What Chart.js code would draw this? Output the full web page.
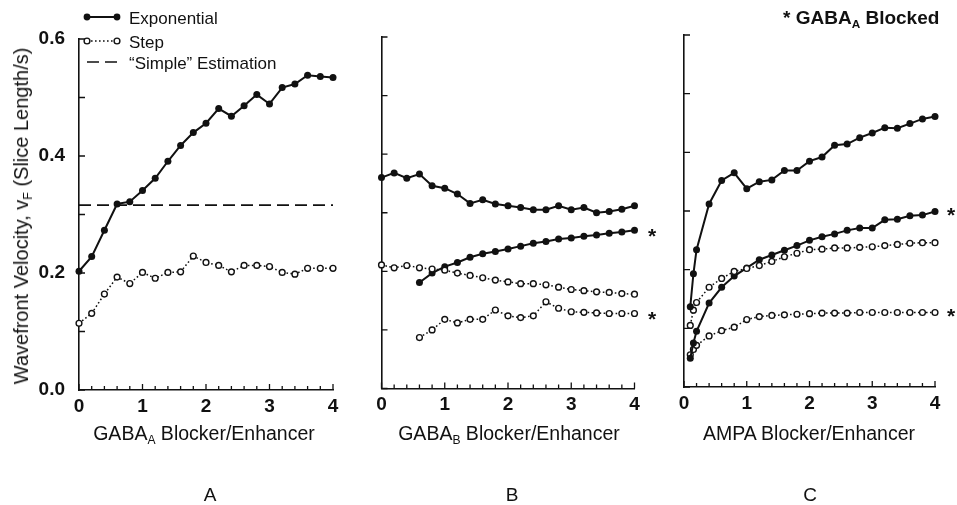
<!DOCTYPE html>
<html>
<head>
<meta charset="utf-8">
<script src="https://cdn.jsdelivr.net/npm/chart.js@4.4.1/dist/chart.umd.min.js"></script>
<style>
  body { margin: 0; background: #fff; }
  #page { position: relative; width: 957px; height: 505px; overflow: hidden;
          font-family: "Liberation Sans", Arial, sans-serif; color: #111; }
  canvas { position: absolute; top: 0; }
  .txt { position: absolute; white-space: nowrap; line-height: 1; transform: translate(-50%, -50%); }
  .left { transform: translate(0, -50%); }
  sub { font-size: 62%; vertical-align: -0.35em; line-height: 0; }
</style>
</head>
<body>
<div id="page">
  <canvas id="chartA" width="345" height="505" style="left:0px"></canvas>
  <canvas id="chartB" width="310" height="505" style="left:345px"></canvas>
  <canvas id="chartC" width="302" height="505" style="left:655px"></canvas>

  <!-- legend samples -->
  <svg style="position:absolute;left:0;top:0" width="140" height="80">
    <line x1="87" y1="17" x2="117" y2="17" stroke="#111" stroke-width="2"/>
    <circle cx="87" cy="17" r="3.4" fill="#111"/>
    <circle cx="117" cy="17" r="3.4" fill="#111"/>
    <line x1="87" y1="41" x2="117" y2="41" stroke="#111" stroke-width="1.5" stroke-dasharray="1.6 2.4"/>
    <circle cx="87" cy="41" r="2.9" fill="#fff" stroke="#111" stroke-width="1.4"/>
    <circle cx="117" cy="41" r="2.9" fill="#fff" stroke="#111" stroke-width="1.4"/>
    <line x1="87" y1="62" x2="118" y2="62" stroke="#111" stroke-width="1.6" stroke-dasharray="12 6"/>
  </svg>
  <div class="txt left" style="left:129px;top:18px;font-size:17px">Exponential</div>
  <div class="txt left" style="left:129px;top:42px;font-size:17px">Step</div>
  <div class="txt left" style="left:129px;top:63px;font-size:17px">“Simple” Estimation</div>

  <div class="txt left" style="left:783px;top:17px;font-size:19px;font-weight:bold">* GABA<sub>A</sub> Blocked</div>

  <div class="txt" style="left:21px;top:216px;font-size:20px;transform:translate(-50%,-50%) rotate(-90deg)">Wavefront Velocity, v<sub>F</sub> (Slice Length/s)</div>

  <div class="txt" style="left:204px;top:434px;font-size:19.5px">GABA<sub>A</sub> Blocker/Enhancer</div>
  <div class="txt" style="left:509px;top:434px;font-size:19.5px">GABA<sub>B</sub> Blocker/Enhancer</div>
  <div class="txt" style="left:809px;top:434px;font-size:19.5px">AMPA Blocker/Enhancer</div>

  <div class="txt" style="left:210px;top:494px;font-size:19px">A</div>
  <div class="txt" style="left:512px;top:494px;font-size:19px">B</div>
  <div class="txt" style="left:810px;top:494px;font-size:19px">C</div>

  <!-- GABA_A blocked markers -->
  <div class="txt" style="left:652px;top:235px;font-size:21px;font-weight:bold">*</div>
  <div class="txt" style="left:652px;top:318px;font-size:21px;font-weight:bold">*</div>
  <div class="txt" style="left:951px;top:214px;font-size:21px;font-weight:bold">*</div>
  <div class="txt" style="left:951px;top:315px;font-size:21px;font-weight:bold">*</div>
</div>

<script>
const fontFamily = '"Liberation Sans", Arial, sans-serif';

// x positions
const xFull = [0, 0.2, 0.4, 0.6, 0.8, 1, 1.2, 1.4, 1.6, 1.8, 2, 2.2, 2.4, 2.6, 2.8, 3, 3.2, 3.4, 3.6, 3.8, 4];
const xLate = [0.6, 0.8, 1, 1.2, 1.4, 1.6, 1.8, 2, 2.2, 2.4, 2.6, 2.8, 3, 3.2, 3.4, 3.6, 3.8, 4];
const xAmpa = [0.1, 0.15, 0.2, 0.4, 0.6, 0.8, 1, 1.2, 1.4, 1.6, 1.8, 2, 2.2, 2.4, 2.6, 2.8, 3, 3.2, 3.4, 3.6, 3.8, 4];

// tick marks and labels
const xTickValues = xFull;
const xLabelValues = [0, 1, 2, 3, 4];
const yTickValues = [0, 0.1, 0.2, 0.3, 0.4, 0.5, 0.6];
const yLabelValues = [0, 0.2, 0.4, 0.6];

// A: GABA_A
const expA = [0.203, 0.228, 0.273, 0.318, 0.322, 0.341, 0.362, 0.391, 0.418, 0.440, 0.456,
              0.481, 0.468, 0.486, 0.505, 0.489, 0.517, 0.523, 0.538, 0.536, 0.534];
const stepA = [0.114, 0.131, 0.164, 0.193, 0.182, 0.201, 0.191, 0.201, 0.202, 0.229, 0.218,
               0.213, 0.202, 0.213, 0.213, 0.211, 0.201, 0.198, 0.208, 0.208, 0.208];
const simpleEstimate = 0.316;

// B: GABA_B
const expB = [0.360, 0.368, 0.359, 0.366, 0.346, 0.342, 0.332, 0.316, 0.322, 0.315, 0.312,
              0.309, 0.305, 0.305, 0.312, 0.305, 0.309, 0.300, 0.302, 0.306, 0.312];
const stepB = [0.211, 0.206, 0.210, 0.206, 0.204, 0.202, 0.197, 0.193, 0.189, 0.185, 0.182,
               0.179, 0.179, 0.177, 0.173, 0.169, 0.167, 0.165, 0.164, 0.162, 0.161];
const expBBlocked = [0.181, 0.197, 0.208, 0.215, 0.224, 0.230, 0.234, 0.238, 0.243,
                     0.248, 0.251, 0.255, 0.257, 0.260, 0.262, 0.265, 0.267, 0.270];
const stepBBlocked = [0.087, 0.100, 0.118, 0.112, 0.118, 0.118, 0.134, 0.124, 0.121,
                      0.124, 0.148, 0.137, 0.131, 0.130, 0.129, 0.128, 0.128, 0.128];

// C: AMPA
const expC = [0.137, 0.193, 0.234, 0.312, 0.352, 0.365, 0.338, 0.350, 0.353, 0.369, 0.369,
              0.385, 0.392, 0.412, 0.414, 0.425, 0.433, 0.442, 0.441, 0.449, 0.457, 0.461];
const stepC = [0.105, 0.131, 0.144, 0.170, 0.185, 0.197, 0.202, 0.207, 0.214, 0.222, 0.228,
               0.234, 0.235, 0.237, 0.237, 0.238, 0.239, 0.241, 0.243, 0.245, 0.246, 0.246];
const expCBlocked = [0.049, 0.075, 0.095, 0.143, 0.170, 0.189, 0.203, 0.217, 0.225, 0.233, 0.241,
                     0.250, 0.256, 0.261, 0.267, 0.271, 0.271, 0.285, 0.286, 0.292, 0.293, 0.299];
const stepCBlocked = [0.055, 0.064, 0.071, 0.087, 0.096, 0.102, 0.115, 0.120, 0.122, 0.123, 0.124,
                      0.125, 0.126, 0.126, 0.126, 0.127, 0.127, 0.127, 0.127, 0.127, 0.127, 0.127];

function pairs(xs, ys) {
  return ys.map((y, i) => ({ x: xs[i], y: y }));
}

function expSet(xs, ys) {
  return {
    data: pairs(xs, ys),
    borderColor: '#111', borderWidth: 2, tension: 0, clip: false,
    pointRadius: 3.5, pointBackgroundColor: '#111', pointBorderWidth: 0
  };
}

function stepSet(xs, ys) {
  return {
    data: pairs(xs, ys),
    borderColor: '#111', borderWidth: 1.5, borderDash: [1.6, 2.4], tension: 0, clip: false,
    pointRadius: 2.9, pointBackgroundColor: '#fff', pointBorderColor: '#111', pointBorderWidth: 1.4
  };
}

function dashedSet(value) {
  return {
    data: [{ x: xLabelValues[0], y: value }, { x: xLabelValues[xLabelValues.length - 1], y: value }],
    borderColor: '#111', borderWidth: 1.6, borderDash: [12, 6], pointRadius: 0, clip: false
  };
}

// ticks point into the plot, so draw them ourselves
const inwardTicks = {
  id: 'inwardTicks',
  afterDraw(chart) {
    const { ctx, chartArea, scales } = chart;
    ctx.save();
    ctx.strokeStyle = '#111';
    ctx.lineWidth = 1.3;
    ctx.beginPath();
    yTickValues.forEach(v => {
      const y = scales.y.getPixelForValue(v);
      ctx.moveTo(chartArea.left, y);
      ctx.lineTo(chartArea.left + 6, y);
    });
    xTickValues.forEach(v => {
      const x = scales.x.getPixelForValue(v);
      const len = xLabelValues.includes(v) ? 6 : 4;
      ctx.moveTo(x, chartArea.bottom);
      ctx.lineTo(x, chartArea.bottom - len);
    });
    ctx.stroke();
    ctx.restore();
  }
};

function setupPanel(canvasId, box, datasets, showYLabels) {
  const ctx = document.getElementById(canvasId).getContext('2d');
  const xAxisHeight = 30;
  return new Chart(ctx, {
    type: 'line',
    data: { datasets: datasets },
    options: {
      responsive: false,
      animation: false,
      events: [],
      layout: {
        padding: {
          left: 0,
          top: box.top,
          right: box.left + box.width - box.plotRight,
          bottom: 505 - box.bottom - xAxisHeight
        }
      },
      plugins: { legend: { display: false }, tooltip: { enabled: false } },
      scales: {
        x: {
          type: 'linear', min: 0, max: 4,
          afterFit: s => { s.height = xAxisHeight; },
          afterBuildTicks: s => { s.ticks = xTickValues.map(v => ({ value: v })); },
          grid: { display: false, drawTicks: false },
          border: { display: true, color: '#111', width: 1.6 },
          ticks: {
            autoSkip: false, maxRotation: 0, padding: 5, color: '#111',
            font: { family: fontFamily, size: 19, weight: 'bold' },
            callback: v => xLabelValues.includes(v) ? String(v) : ''
          }
        },
        y: {
          type: 'linear', min: 0, max: 0.6,
          afterFit: s => { s.width = box.plotLeft - box.left; },
          afterBuildTicks: s => { s.ticks = yTickValues.map(v => ({ value: v })); },
          grid: { display: false, drawTicks: false },
          border: { display: true, color: '#111', width: 1.6 },
          ticks: {
            display: showYLabels, autoSkip: false, padding: 14, color: '#111',
            font: { family: fontFamily, size: 19, weight: 'bold' },
            callback: v => yLabelValues.includes(v) ? v.toFixed(1) : ''
          }
        }
      }
    },
    plugins: [inwardTicks]
  });
}

setupPanel('chartA', { left: 0, width: 345, plotLeft: 79, plotRight: 333, top: 39, bottom: 390 },
  [expSet(xFull, expA), stepSet(xFull, stepA), dashedSet(simpleEstimate)], true);

setupPanel('chartB', { left: 345, width: 310, plotLeft: 381.5, plotRight: 634.5, top: 37, bottom: 388.5 },
  [expSet(xFull, expB), stepSet(xFull, stepB), expSet(xLate, expBBlocked), stepSet(xLate, stepBBlocked)], false);

setupPanel('chartC', { left: 655, width: 302, plotLeft: 684, plotRight: 935, top: 35, bottom: 387 },
  [expSet(xAmpa, expC), stepSet(xAmpa, stepC), expSet(xAmpa, expCBlocked), stepSet(xAmpa, stepCBlocked)], false);
</script>
</body>
</html>
